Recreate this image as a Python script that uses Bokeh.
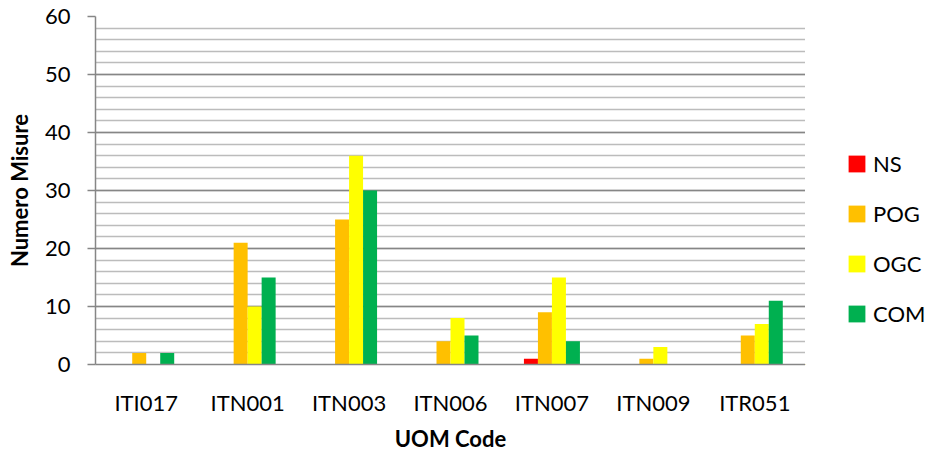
from bokeh.plotting import figure
from bokeh.layouts import row
from bokeh.models import ColumnDataSource, FactorRange, Range1d, SingleIntervalTicker, Legend, LegendItem
from bokeh.transform import dodge
from bokeh.embed import file_html
from bokeh.resources import INLINE

categories = ["ITI017", "ITN001", "ITN003", "ITN006", "ITN007", "ITN009", "ITR051"]
series_names = ["NS", "POG", "OGC", "COM"]
ns = [0, 0, 0, 0, 1, 0, 0]
pog = [2, 21, 25, 4, 9, 1, 5]
ogc = [0, 10, 36, 8, 15, 3, 7]
com = [2, 15, 30, 5, 4, 0, 11]
colors = ["#FF0000", "#FFC000", "#FFFF00", "#00B050"]

source = ColumnDataSource(dict(cat=categories, NS=ns, POG=pog, OGC=ogc, COM=com))

FONT = "Lato"
FS = "22px"
H = 454

p = figure(
    x_range=FactorRange(*categories),
    y_range=Range1d(0, 60),
    width=805, height=H,
    min_border_left=95, min_border_right=0, min_border_top=16, min_border_bottom=90,
    output_backend="svg", toolbar_location=None,
)
p.outline_line_color = None

bw = 0.138
offsets = [-1.5 * bw, -0.5 * bw, 0.5 * bw, 1.5 * bw]
for name, off, col in zip(series_names, offsets, colors):
    p.vbar(x=dodge("cat", off, range=p.x_range), top=name, width=bw, source=source,
           fill_color=col, line_color=None)

# y axis
p.yaxis.ticker = SingleIntervalTicker(interval=10, num_minor_ticks=5)
p.yaxis.axis_line_color = "#868686"
p.yaxis.axis_line_width = 1.5
p.yaxis.major_tick_line_color = "#868686"
p.yaxis.major_tick_line_width = 1.5
p.yaxis.major_tick_out = 8
p.yaxis.major_tick_in = 0
p.yaxis.minor_tick_line_color = None
p.yaxis.minor_tick_out = 0
p.yaxis.major_label_standoff = 17
p.yaxis.axis_label = "Numero Misure"
p.yaxis.axis_label_standoff = 9

# x axis
p.xaxis.axis_line_color = "#868686"
p.xaxis.axis_line_width = 1.5
p.xaxis.major_tick_line_color = None
p.xaxis.major_tick_out = 0
p.xaxis.major_tick_in = 0
p.xaxis.minor_tick_line_color = None
p.xaxis.minor_tick_out = 0
p.xaxis.major_label_standoff = 24
p.xaxis.axis_label = "UOM Code"
p.xaxis.axis_label_standoff = 6

for ax in [p.xaxis, p.yaxis]:
    ax.major_label_text_font = FONT
    ax.major_label_text_font_size = FS
    ax.major_label_text_color = "#000000"
    ax.axis_label_text_font = FONT
    ax.axis_label_text_font_size = FS
    ax.axis_label_text_font_style = "bold"
    ax.axis_label_text_color = "#000000"

# grid
p.xgrid.grid_line_color = None
p.ygrid.grid_line_color = "#868686"
p.ygrid.grid_line_width = 1.5
p.ygrid.minor_grid_line_color = "#bcbcbc"
p.ygrid.minor_grid_line_width = 1.5

# legend panel (separate figure to the right of the chart)
lg = figure(width=120, height=H, min_border=0, output_backend="svg", toolbar_location=None,
            x_axis_location=None, y_axis_location=None,
            x_range=Range1d(10, 11), y_range=Range1d(10, 11))
lg.outline_line_color = None
lg.grid.grid_line_color = None
dummy = ColumnDataSource(dict(x=[0], top=[1]))
items = []
for name, col in zip(series_names, colors):
    r = lg.vbar(x="x", top="top", width=1, source=dummy, fill_color=col, line_color=None)
    items.append(LegendItem(label=name, renderers=[r]))

legend = Legend(
    items=items,
    location=(41, 37),
    padding=0, margin=0, spacing=23,
    glyph_width=21, glyph_height=21, label_height=21,
    label_standoff=6,
    label_text_font=FONT, label_text_font_size=FS, label_text_color="#000000",
    border_line_color=None, background_fill_alpha=0,
)
lg.add_layout(legend, "center")

layout = row(p, lg, spacing=0)
open("out.html", "w").write(file_html(layout, INLINE))
